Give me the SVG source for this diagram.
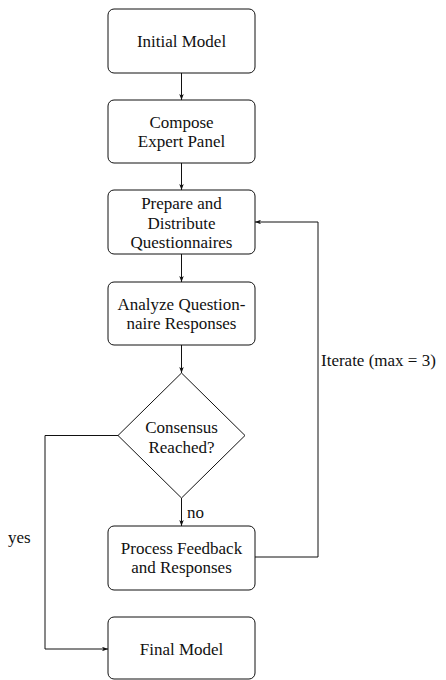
<svg xmlns="http://www.w3.org/2000/svg" width="446" height="680" viewBox="0 0 446 680">
  <defs>
    <marker id="arrow" viewBox="0 0 8 6" refX="8" refY="3" markerWidth="6" markerHeight="4.5" orient="auto" markerUnits="userSpaceOnUse">
      <path d="M0,0 L8,3 L0,6 L2,3 Z" fill="#111111"/>
    </marker>
  </defs>

  <g id="connectors" fill="none" stroke="#111111" stroke-width="1" marker-end="url(#arrow)">
    <line x1="181.5" y1="73" x2="181.5" y2="100"/>
    <line x1="181.5" y1="163" x2="181.5" y2="190"/>
    <line x1="181.5" y1="254" x2="181.5" y2="282"/>
    <line x1="181.5" y1="345" x2="181.5" y2="373"/>
    <line x1="181.5" y1="498" x2="181.5" y2="526"/>
    <polyline points="118,435.5 45,435.5 45,649 108,649"/>
    <polyline points="255,557 318,557 318,222 255,222"/>
  </g>

  <g id="edge-labels" font-family="Times New Roman" font-size="17" fill="#111111">
    <text x="187" y="518">no</text>
    <text x="8" y="543">yes</text>
    <text x="321" y="366">Iterate (max = 3)</text>
  </g>

  <g id="initial-model">
    <rect x="108" y="9" width="147" height="64" rx="6" fill="#ffffff" stroke="#111111"/>
    <text x="181.5" y="47" font-family="Times New Roman" font-size="17" fill="#111111" text-anchor="middle">Initial Model</text>
  </g>

  <g id="compose-panel">
    <rect x="108" y="100" width="147" height="63" rx="6" fill="#ffffff" stroke="#111111"/>
    <text x="181.5" y="128" font-family="Times New Roman" font-size="17" fill="#111111" text-anchor="middle">Compose</text>
    <text x="181.5" y="147" font-family="Times New Roman" font-size="17" fill="#111111" text-anchor="middle">Expert Panel</text>
  </g>

  <g id="prepare-questionnaires">
    <rect x="108" y="190" width="147" height="64" rx="6" fill="#ffffff" stroke="#111111"/>
    <text x="181.5" y="209" font-family="Times New Roman" font-size="17" fill="#111111" text-anchor="middle">Prepare and</text>
    <text x="181.5" y="228.5" font-family="Times New Roman" font-size="17" fill="#111111" text-anchor="middle">Distribute</text>
    <text x="181.5" y="248" font-family="Times New Roman" font-size="17" fill="#111111" text-anchor="middle">Questionnaires</text>
  </g>

  <g id="analyze-responses">
    <rect x="108" y="282" width="147" height="63" rx="6" fill="#ffffff" stroke="#111111"/>
    <text x="181.5" y="309.5" font-family="Times New Roman" font-size="17" fill="#111111" text-anchor="middle">Analyze Question-</text>
    <text x="181.5" y="329" font-family="Times New Roman" font-size="17" fill="#111111" text-anchor="middle">naire Responses</text>
  </g>

  <g id="consensus">
    <polygon points="181.5,373 245,435.5 181.5,498 118,435.5" fill="#ffffff" stroke="#111111"/>
    <text x="181.5" y="433" font-family="Times New Roman" font-size="17" fill="#111111" text-anchor="middle">Consensus</text>
    <text x="181.5" y="453" font-family="Times New Roman" font-size="17" fill="#111111" text-anchor="middle">Reached?</text>
  </g>

  <g id="process-feedback">
    <rect x="108" y="526" width="147" height="64" rx="6" fill="#ffffff" stroke="#111111"/>
    <text x="181.5" y="554" font-family="Times New Roman" font-size="17" fill="#111111" text-anchor="middle">Process Feedback</text>
    <text x="181.5" y="573" font-family="Times New Roman" font-size="17" fill="#111111" text-anchor="middle">and Responses</text>
  </g>

  <g id="final-model">
    <rect x="108" y="617" width="147" height="62" rx="6" fill="#ffffff" stroke="#111111"/>
    <text x="181.5" y="655" font-family="Times New Roman" font-size="17" fill="#111111" text-anchor="middle">Final Model</text>
  </g>
</svg>
